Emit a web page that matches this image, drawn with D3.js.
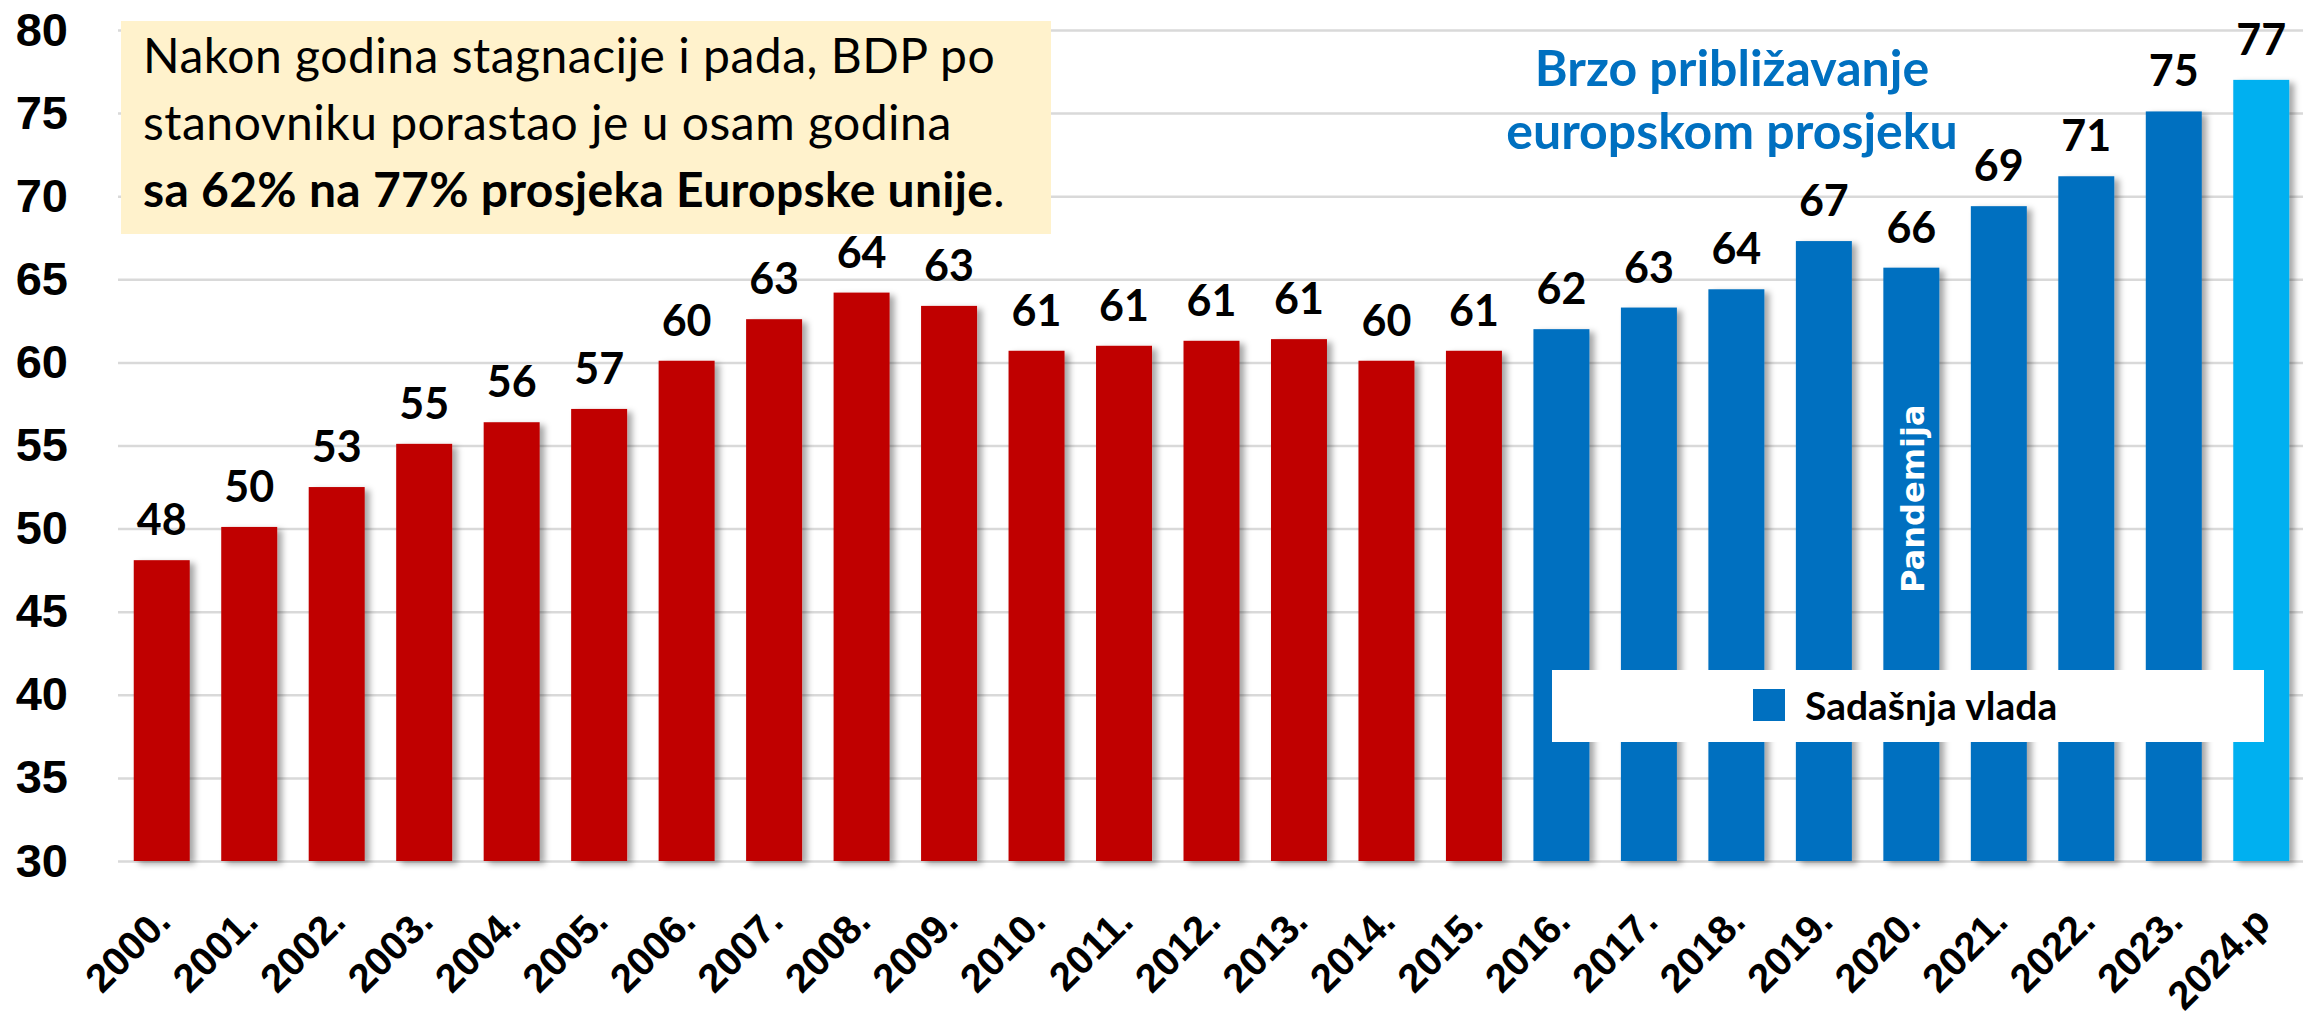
<!DOCTYPE html>
<html>
<head>
<meta charset="utf-8">
<script src="https://cdn.jsdelivr.net/npm/d3@7"></script>
<style>
    body { margin: 0; background: #fff; }
    svg { display: block; font-family: Lato, 'Open Sans', sans-serif; }
</style>
</head>
<body>
<svg id="chart"></svg>
<script>
// data
const years = ['2000.', '2001.', '2002.', '2003.', '2004.', '2005.', '2006.', '2007.', '2008.', '2009.',
    '2010.', '2011.', '2012.', '2013.', '2014.', '2015.', '2016.', '2017.', '2018.', '2019.',
    '2020.', '2021.', '2022.', '2023.', '2024.p'];
const values = [48.1, 50.1, 52.5, 55.1, 56.4, 57.2, 60.1, 62.6, 64.2, 63.4,
    60.7, 61.0, 61.3, 61.4, 60.1, 60.7, 62.0, 63.3, 64.4, 67.3,
    65.7, 69.4, 71.2, 75.1, 77.0];
const periods = ['prije', 'prije', 'prije', 'prije', 'prije', 'prije', 'prije', 'prije', 'prije', 'prije',
    'prije', 'prije', 'prije', 'prije', 'prije', 'prije', 'vlada', 'vlada', 'vlada', 'vlada',
    'vlada', 'vlada', 'vlada', 'vlada', 'procjena'];
const yTicks = [30, 35, 40, 45, 50, 55, 60, 65, 70, 75, 80];

const noteLines = ['Nakon godina stagnacije i pada, BDP po', 'stanovniku porastao je u osam godina'];
const noteBold = 'sa 62% na 77% prosjeka Europske unije';
const titleLines = ['Brzo približavanje', 'europskom prosjeku'];
const legendLabel = 'Sadašnja vlada';
const pandemicYear = '2020.';
const pandemicLabel = 'Pandemija';

// colours
const colors = { prije: '#C00000', vlada: '#0070C0', procjena: '#00B0F0' };

// layout
const width = 2303, height = 1018;
const margin = { top: 30, left: 118, bottom: 157 };
const baseY = height - margin.bottom;

const svg = d3.select('#chart')
    .attr('width', width)
    .attr('height', height);

svg.append('rect').attr('width', width).attr('height', height).attr('fill', '#fff');

// bar shadow
const defs = svg.append('defs');
defs.append('filter')
    .attr('id', 'shadow')
    .attr('x', '-20%').attr('y', '-5%').attr('width', '150%').attr('height', '115%')
    .append('feDropShadow')
    .attr('dx', 5).attr('dy', 3)
    .attr('stdDeviation', 3)
    .attr('flood-color', '#000')
    .attr('flood-opacity', 0.35);

// scales
const x = d3.scaleBand()
    .domain(years)
    .range([margin.left, 2305])
    .paddingInner(0.36)
    .paddingOuter(0.18);

const y = d3.scaleLinear()
    .domain([30, 80])
    .range([baseY, margin.top]);

// y axis with gridlines
const yAxis = d3.axisLeft(y)
    .tickValues(yTicks)
    .tickSize(-(width - margin.left))
    .tickPadding(50);

const yG = svg.append('g')
    .attr('class', 'y-axis')
    .attr('transform', `translate(${margin.left},0)`)
    .call(yAxis);

yG.select('.domain').remove();
yG.selectAll('.tick line')
    .attr('stroke', '#D9D9D9')
    .attr('stroke-width', 2.5);
yG.selectAll('.tick text')
    .attr('fill', '#000')
    .style('font-size', '47px')
    .style('font-weight', 700);

// bars
svg.append('g')
    .selectAll('rect')
    .data(years)
    .join('rect')
    .attr('x', d => x(d))
    .attr('y', (d, i) => y(values[i]))
    .attr('width', x.bandwidth())
    .attr('height', (d, i) => baseY - y(values[i]))
    .attr('fill', (d, i) => colors[periods[i]])
    .attr('filter', 'url(#shadow)');

// value labels
svg.append('g')
    .selectAll('text')
    .data(years)
    .join('text')
    .attr('x', d => x(d) + x.bandwidth() / 2)
    .attr('y', (d, i) => y(values[i]) - 25)
    .attr('text-anchor', 'middle')
    .style('font-size', '43px')
    .style('font-weight', 700)
    .text((d, i) => Math.round(values[i]));

// x axis labels
const xAxis = d3.axisBottom(x).tickSize(0).tickPadding(0);
const xG = svg.append('g')
    .attr('class', 'x-axis')
    .attr('transform', `translate(0,${baseY})`)
    .call(xAxis);
xG.select('.domain').remove();
xG.selectAll('.tick text')
    .attr('fill', '#000')
    .attr('text-anchor', 'end')
    .attr('dy', null)
    .attr('y', 0)
    .attr('transform', 'translate(11,63) rotate(-45)')
    .style('font-size', '40px')
    .style('font-weight', 700);

// pandemic note inside the 2020 bar
svg.append('text')
    .attr('transform', `translate(${x(pandemicYear) + x.bandwidth() / 2 + 13},${y(51.8)}) rotate(-90)`)
    .attr('text-anchor', 'middle')
    .attr('fill', '#fff')
    .style('font-family', "'DejaVu Sans', Verdana, sans-serif")
    .style('font-size', '32px')
    .style('font-weight', 700)
    .text(pandemicLabel);

// annotation box
const note = svg.append('g');
note.append('rect')
    .attr('x', 121).attr('y', 21)
    .attr('width', 930).attr('height', 213)
    .attr('fill', '#FFF2CC');

noteLines.forEach((line, i) => {
    note.append('text')
        .attr('x', 143)
        .attr('y', 73 + i * 67)
        .style('font-size', '48px')
        .style('letter-spacing', '0.5px')
        .text(line);
});
const last = note.append('text')
    .attr('x', 143)
    .attr('y', 207)
    .style('font-size', '48px')
    .style('letter-spacing', '0.3px');
last.append('tspan').style('font-weight', 700).text(noteBold);
last.append('tspan').text('.');

// blue title
titleLines.forEach((line, i) => {
    svg.append('text')
        .attr('x', 1732)
        .attr('y', 86 + i * 63)
        .attr('text-anchor', 'middle')
        .attr('fill', '#0070C0')
        .style('font-size', '50px')
        .style('font-weight', 700)
        .text(line);
});

// legend
const legend = svg.append('g');
legend.append('rect')
    .attr('x', 1552).attr('y', 670)
    .attr('width', 712).attr('height', 72)
    .attr('fill', '#fff');
legend.append('rect')
    .attr('x', 1753).attr('y', 689)
    .attr('width', 32).attr('height', 32)
    .attr('fill', colors.vlada);
legend.append('text')
    .attr('x', 1805).attr('y', 720)
    .style('font-size', '39px')
    .style('font-weight', 700)
    .text(legendLabel);
</script>
</body>
</html>
